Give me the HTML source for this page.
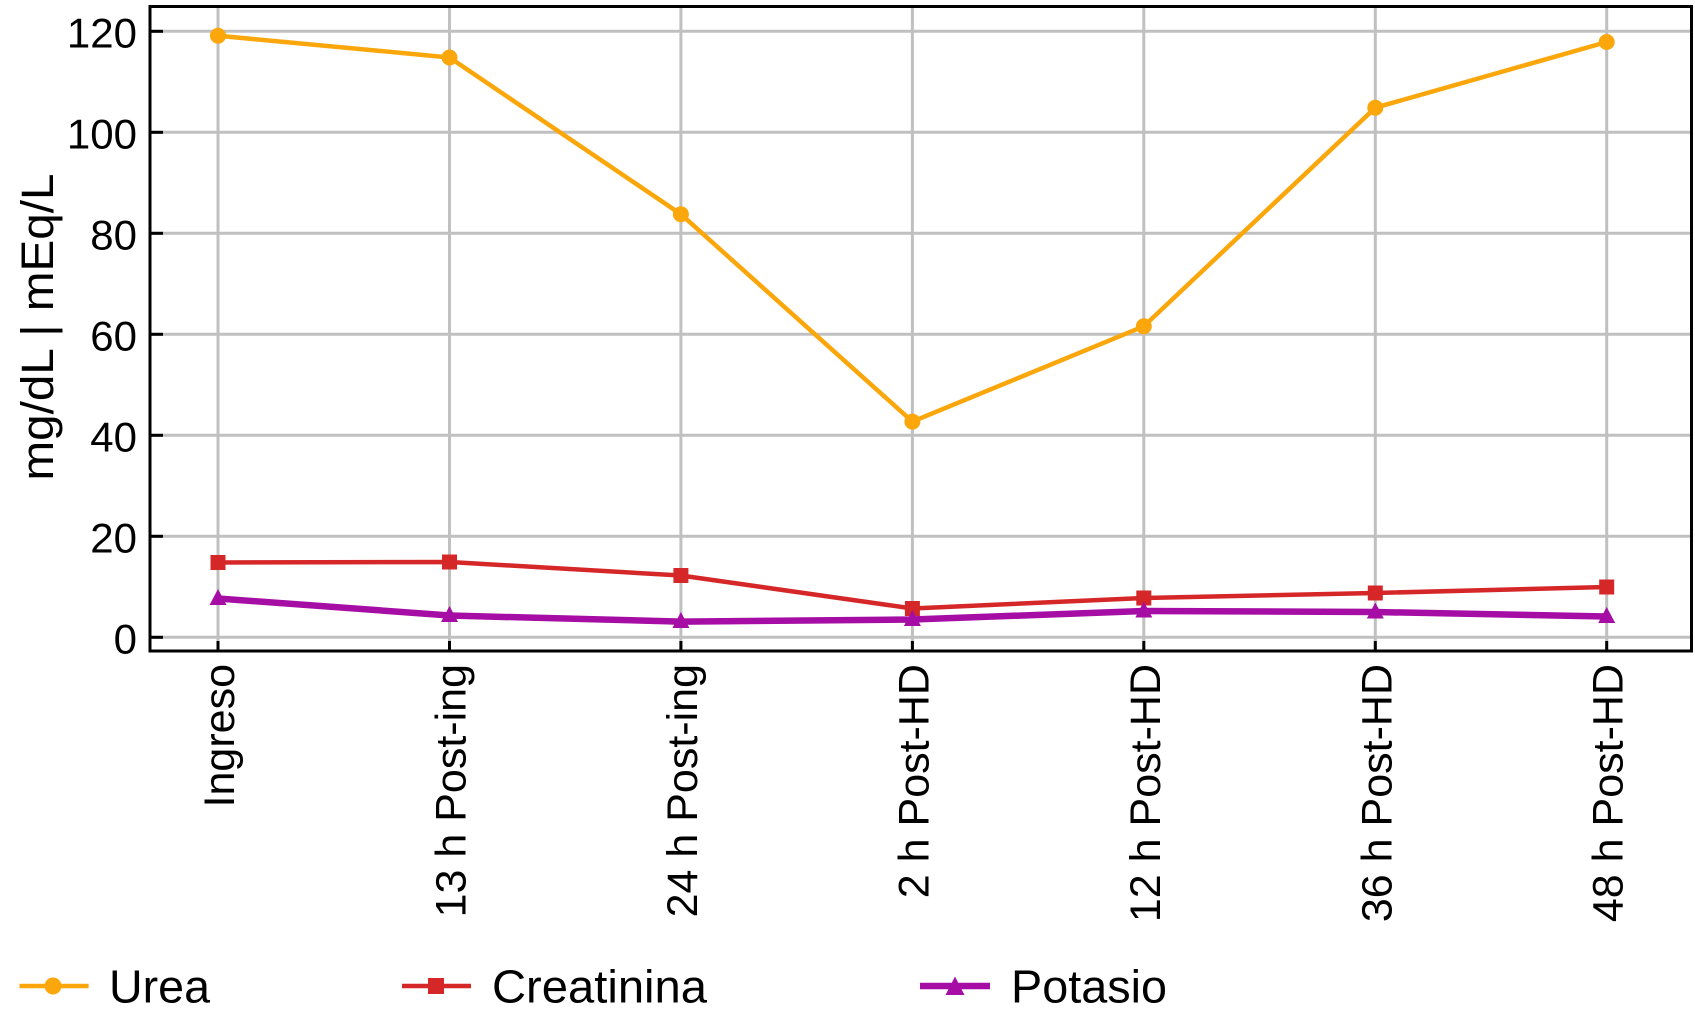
<!DOCTYPE html>
<html>
<head>
<meta charset="utf-8">
<style>
  html, body { margin: 0; padding: 0; background: #ffffff; }
  svg { display: block; }
  text { font-family: "Liberation Sans", Arial, Helvetica, sans-serif; fill: #000; }
</style>
</head>
<body>
<svg width="1695" height="1024" viewBox="0 0 1695 1024" xmlns="http://www.w3.org/2000/svg">
  <rect x="0" y="0" width="1695" height="1024" fill="#ffffff"/>

  <!-- horizontal gridlines -->
  <g stroke="#c0c0c0" stroke-width="3">
    <line x1="150" y1="31.3" x2="1692" y2="31.3"/>
    <line x1="150" y1="132.3" x2="1692" y2="132.3"/>
    <line x1="150" y1="233.3" x2="1692" y2="233.3"/>
    <line x1="150" y1="334.3" x2="1692" y2="334.3"/>
    <line x1="150" y1="435.3" x2="1692" y2="435.3"/>
    <line x1="150" y1="536.3" x2="1692" y2="536.3"/>
    <line x1="150" y1="637.3" x2="1692" y2="637.3"/>
  </g>
  <!-- vertical gridlines -->
  <g stroke="#c0c0c0" stroke-width="3">
    <line x1="218" y1="6" x2="218" y2="651"/>
    <line x1="449.5" y1="6" x2="449.5" y2="651"/>
    <line x1="680.9" y1="6" x2="680.9" y2="651"/>
    <line x1="912.4" y1="6" x2="912.4" y2="651"/>
    <line x1="1143.8" y1="6" x2="1143.8" y2="651"/>
    <line x1="1375.3" y1="6" x2="1375.3" y2="651"/>
    <line x1="1606.7" y1="6" x2="1606.7" y2="651"/>
  </g>

  <!-- Urea -->
  <polyline fill="none" stroke="#FBA60A" stroke-width="4.5" stroke-linejoin="round"
    points="218,35.7 449.5,57.5 680.9,214.2 912.4,421.6 1143.8,326.3 1375.3,107.7 1606.7,42"/>
  <g fill="#FBA60A">
    <circle cx="218" cy="35.7" r="8"/>
    <circle cx="449.5" cy="57.5" r="8"/>
    <circle cx="680.9" cy="214.2" r="8"/>
    <circle cx="912.4" cy="421.6" r="8"/>
    <circle cx="1143.8" cy="326.3" r="8"/>
    <circle cx="1375.3" cy="107.7" r="8"/>
    <circle cx="1606.7" cy="42" r="8"/>
  </g>

  <!-- Creatinina -->
  <polyline fill="none" stroke="#D62728" stroke-width="4.5" stroke-linejoin="round"
    points="218,562.5 449.5,562 680.9,575.5 912.4,608.5 1143.8,598 1375.3,593 1606.7,587"/>
  <g fill="#D62728">
    <rect x="210.5" y="555" width="15" height="15"/>
    <rect x="442" y="554.5" width="15" height="15"/>
    <rect x="673.4" y="568" width="15" height="15"/>
    <rect x="904.9" y="601" width="15" height="15"/>
    <rect x="1136.3" y="590.5" width="15" height="15"/>
    <rect x="1367.8" y="585.5" width="15" height="15"/>
    <rect x="1599.2" y="579.5" width="15" height="15"/>
  </g>

  <!-- Potasio -->
  <polyline fill="none" stroke="#A50DA5" stroke-width="6.5" stroke-linejoin="round"
    points="218,598.5 449.5,615.5 680.9,621.6 912.4,619.5 1143.8,611 1375.3,612 1606.7,616.5"/>
  <g fill="#A50DA5">
    <polygon points="218,589 226.5,605 209.5,605"/>
    <polygon points="449.5,606 458,622 441,622"/>
    <polygon points="680.9,612 689.4,628 672.4,628"/>
    <polygon points="912.4,610 920.9,626 903.9,626"/>
    <polygon points="1143.8,601.5 1152.3,617.5 1135.3,617.5"/>
    <polygon points="1375.3,602.5 1383.8,618.5 1366.8,618.5"/>
    <polygon points="1606.7,607 1615.2,623 1598.2,623"/>
  </g>

  <!-- frame -->
  <rect x="150" y="6.5" width="1541.5" height="644.5" fill="none" stroke="#000" stroke-width="3"/>

  <!-- y ticks (inward) -->
  <g stroke="#000" stroke-width="3">
    <line x1="150" y1="31.3" x2="163" y2="31.3"/>
    <line x1="150" y1="132.3" x2="163" y2="132.3"/>
    <line x1="150" y1="233.3" x2="163" y2="233.3"/>
    <line x1="150" y1="334.3" x2="163" y2="334.3"/>
    <line x1="150" y1="435.3" x2="163" y2="435.3"/>
    <line x1="150" y1="536.3" x2="163" y2="536.3"/>
    <line x1="150" y1="637.3" x2="163" y2="637.3"/>
  </g>
  <!-- x ticks (inward) -->
  <g stroke="#000" stroke-width="3">
    <line x1="218" y1="651" x2="218" y2="641"/>
    <line x1="449.5" y1="651" x2="449.5" y2="641"/>
    <line x1="680.9" y1="651" x2="680.9" y2="641"/>
    <line x1="912.4" y1="651" x2="912.4" y2="641"/>
    <line x1="1143.8" y1="651" x2="1143.8" y2="641"/>
    <line x1="1375.3" y1="651" x2="1375.3" y2="641"/>
    <line x1="1606.7" y1="651" x2="1606.7" y2="641"/>
  </g>

  <!-- y tick labels -->
  <g font-size="42" text-anchor="end">
    <text x="137" y="47.3">120</text>
    <text x="137" y="148.3">100</text>
    <text x="137" y="249.3">80</text>
    <text x="137" y="350.3">60</text>
    <text x="137" y="451.3">40</text>
    <text x="137" y="552.3">20</text>
    <text x="137" y="653.3">0</text>
  </g>

  <!-- y axis label -->
  <text transform="translate(53,327) rotate(-90)" font-size="45" text-anchor="middle" textLength="307" lengthAdjust="spacingAndGlyphs">mg/dL | mEq/L</text>

  <!-- x tick labels -->
  <g font-size="43" text-anchor="end">
    <text transform="translate(234,664) rotate(-90)">Ingreso</text>
    <text transform="translate(465.5,664) rotate(-90)">13 h Post-ing</text>
    <text transform="translate(696.9,664) rotate(-90)">24 h Post-ing</text>
    <text transform="translate(928.4,664) rotate(-90)">2 h Post-HD</text>
    <text transform="translate(1159.8,664) rotate(-90)">12 h Post-HD</text>
    <text transform="translate(1391.3,664) rotate(-90)">36 h Post-HD</text>
    <text transform="translate(1622.7,664) rotate(-90)">48 h Post-HD</text>
  </g>

  <!-- legend -->
  <line x1="19.5" y1="986" x2="88.6" y2="986" stroke="#FBA60A" stroke-width="4.5"/>
  <circle cx="53" cy="986" r="8.5" fill="#FBA60A"/>
  <text x="109" y="1002.5" font-size="46" textLength="101" lengthAdjust="spacingAndGlyphs">Urea</text>

  <line x1="402" y1="986" x2="471" y2="986" stroke="#D62728" stroke-width="4.5"/>
  <rect x="428" y="978" width="16" height="16" fill="#D62728"/>
  <text x="492" y="1002.5" font-size="46" textLength="215" lengthAdjust="spacingAndGlyphs">Creatinina</text>

  <line x1="920" y1="986" x2="990" y2="986" stroke="#A50DA5" stroke-width="6.5"/>
  <polygon points="955,976.5 964.5,995 945.5,995" fill="#A50DA5"/>
  <text x="1011" y="1002.5" font-size="46" textLength="156" lengthAdjust="spacingAndGlyphs">Potasio</text>
</svg>
</body>
</html>
